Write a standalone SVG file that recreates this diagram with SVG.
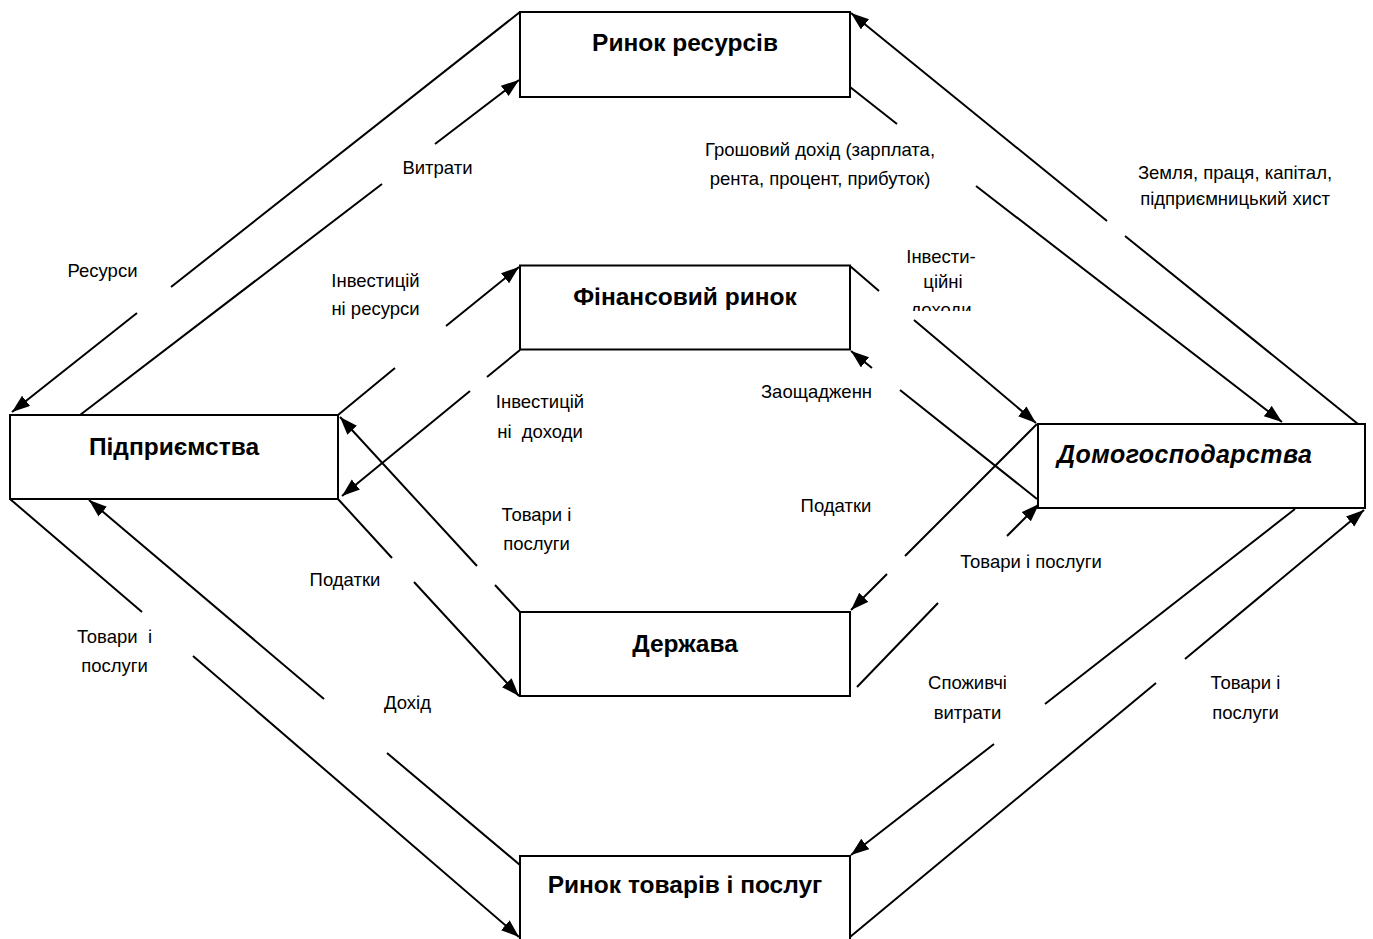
<svg xmlns="http://www.w3.org/2000/svg" width="1373" height="939" viewBox="0 0 1373 939">
<style>
.box{fill:#fff;stroke:#000;stroke-width:2}
.title{font-family:"Liberation Sans",Arial,sans-serif;font-weight:bold;font-size:24.5px;fill:#000;text-anchor:middle}
.lbl{font-family:"Liberation Sans",Arial,sans-serif;font-size:18.5px;fill:#000;text-anchor:middle}
.con{fill:none;stroke:#000;stroke-width:2;marker-end:url(#ah)}
</style>
<defs>
<marker id="ah" markerUnits="userSpaceOnUse" markerWidth="19" markerHeight="14" refX="18" refY="6.5" orient="auto">
<path d="M0,0 L18,6.5 L0,13 z" fill="#000"/>
</marker>
<clipPath id="clipDoh"><rect x="880" y="230" width="120" height="81"/></clipPath>
</defs>
<rect width="1373" height="939" fill="#fff"/>

<g id="connectors">
<path class="con" d="M520,12 L171,287 M137,313 L12,412"/>
<path class="con" d="M80,415 L382,184 M435,144 L519,80"/>
<path class="con" d="M1358,424 L1125,236 M1107,221 L851,13"/>
<path class="con" d="M850,87 L897,124 M976,186 L1282,422"/>
<path class="con" d="M850,266 L879,291 M914,320 L1036,423"/>
<path class="con" d="M1037,499 L900,390 M872,368 L851,351"/>
<path class="con" d="M1037,424 L905,556 M887,574 L851,610"/>
<path class="con" d="M857,687 L938,603 M1007,536 L1039,504"/>
<path class="con" d="M1295,509 L1045,704 M994,744 L851,855"/>
<path class="con" d="M850,937 L1156,683 M1185,659 L1364,510"/>
<path class="con" d="M10,499 L142,612 M193,656 L519,937"/>
<path class="con" d="M520,865 L387,753 M324,699 L89,500"/>
<path class="con" d="M338,499 L392,558 M414,582 L519,696"/>
<path class="con" d="M520,612 L495,585 M477,566 L340,417"/>
<path class="con" d="M338,415 L395,368 M446,326 L519,267"/>
<path class="con" d="M520,350 L487,377 M470,391 L342,496"/>
</g>

<g id="labels">
<text class="lbl" x="102.5" y="277">Ресурси</text>
<text class="lbl" x="437.5" y="174">Витрати</text>
<text class="lbl" x="820" y="156">Грошовий дохід (зарплата,</text>
<text class="lbl" x="820" y="185">рента, процент, прибуток)</text>
<text class="lbl" x="1235" y="179">Земля, праця, капітал,</text>
<text class="lbl" x="1235" y="205">підприємницький хист</text>
<text class="lbl" x="941" y="263">Інвести-</text>
<text class="lbl" x="943" y="288">ційні</text>
<text class="lbl" x="941" y="316" clip-path="url(#clipDoh)">доходи</text>
<text class="lbl" x="375.5" y="287">Інвестицій</text>
<text class="lbl" x="375.5" y="315">ні ресурси</text>
<text class="lbl" x="540" y="408">Інвестицій</text>
<text class="lbl" x="540" y="438" style="white-space:pre">ні  доходи</text>
<text class="lbl" x="816.5" y="398">Заощадженн</text>
<text class="lbl" x="536.5" y="521">Товари і</text>
<text class="lbl" x="536.5" y="550">послуги</text>
<text class="lbl" x="836" y="512">Податки</text>
<text class="lbl" x="1031" y="568">Товари і послуги</text>
<text class="lbl" x="345" y="586">Податки</text>
<text class="lbl" x="114.5" y="643" style="white-space:pre">Товари  і</text>
<text class="lbl" x="114.5" y="672">послуги</text>
<text class="lbl" x="407.5" y="709">Дохід</text>
<text class="lbl" x="967.5" y="689">Споживчі</text>
<text class="lbl" x="967.5" y="719">витрати</text>
<text class="lbl" x="1245.5" y="689">Товари і</text>
<text class="lbl" x="1245.5" y="719">послуги</text>
</g>

<g id="node-rynok-resursiv">
<rect class="box" x="520" y="12" width="330" height="85"/>
<text class="title" x="685" y="51">Ринок ресурсів</text>
</g>
<g id="node-finansovyi-rynok">
<rect class="box" x="520" y="265.5" width="330" height="84"/>
<text class="title" x="685" y="305">Фінансовий ринок</text>
</g>
<g id="node-pidpryiemstva">
<rect class="box" x="10" y="415" width="328" height="84"/>
<text class="title" x="174" y="455">Підприємства</text>
</g>
<g id="node-domohospodarstva">
<rect class="box" x="1038" y="424" width="327" height="84"/>
<text class="title" x="1057" y="463" style="text-anchor:start;font-style:italic;font-size:25px;letter-spacing:0.4px">Домогосподарства</text>
</g>
<g id="node-derzhava">
<rect class="box" x="520" y="612" width="330" height="84"/>
<text class="title" x="685" y="652">Держава</text>
</g>
<g id="node-rynok-tovariv">
<rect class="box" x="520" y="856" width="330" height="84"/>
<text class="title" x="685" y="893">Ринок товарів і послуг</text>
</g>
</svg>
